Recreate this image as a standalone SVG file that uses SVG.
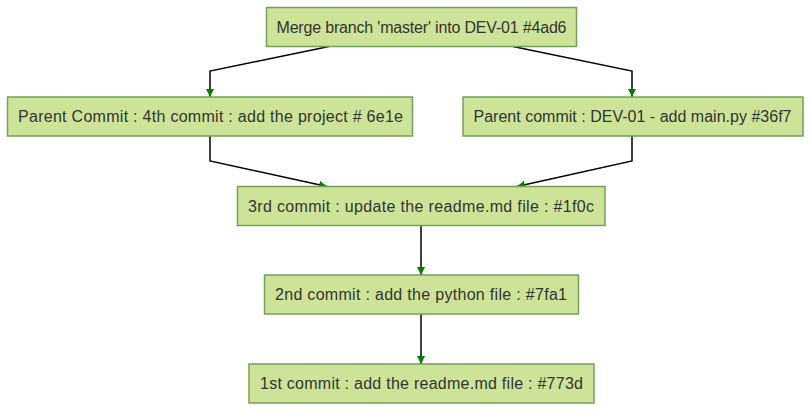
<svg xmlns="http://www.w3.org/2000/svg" width="809" height="411" viewBox="0 0 809 411">
<style>
.node rect{fill:#cde498;stroke:#74a05a;stroke-width:1.5}
.node text{font-family:"Liberation Sans",Arial,sans-serif;font-size:16px;fill:#333333;text-anchor:middle}
.edge{fill:none;stroke:#000000;stroke-width:1.5}
</style>
<defs>
<marker id="arrow" viewBox="0 0 10 10" refX="10" refY="5" markerUnits="userSpaceOnUse" markerWidth="8" markerHeight="8" orient="auto">
<path d="M0,0 L10,5 L0,10 z" fill="#008000"/>
</marker>
</defs>
<rect width="809" height="411" fill="#ffffff"/>
<g id="connectors">
<path class="edge" d="M329,46.5 L210,71 L210,97" marker-end="url(#arrow)"/>
<path class="edge" d="M513,46.5 L632,71 L632,97" marker-end="url(#arrow)"/>
<path class="edge" d="M210,136 L210,161 L327,186.5" marker-end="url(#arrow)"/>
<path class="edge" d="M632,136 L632,161 L517,186.5" marker-end="url(#arrow)"/>
<path class="edge" d="M421,225.5 L421,275" marker-end="url(#arrow)"/>
<path class="edge" d="M421,314 L421,364" marker-end="url(#arrow)"/>
</g>
<g id="n4ad6" class="node">
<rect x="266.5" y="7.5" width="310" height="39"/>
<text x="421.5" y="32.5" textLength="290">Merge branch 'master' into DEV-01 #4ad6</text>
</g>
<g id="n6e1e" class="node">
<rect x="7.5" y="97" width="405" height="39"/>
<text x="210.5" y="122" textLength="385">Parent Commit : 4th commit : add the project # 6e1e</text>
</g>
<g id="n36f7" class="node">
<rect x="463" y="97" width="340" height="39"/>
<text x="632.5" y="122" textLength="318">Parent commit : DEV-01 - add main.py #36f7</text>
</g>
<g id="n1f0c" class="node">
<rect x="237.5" y="186.5" width="367.5" height="39"/>
<text x="421" y="211.5" textLength="346">3rd commit : update the readme.md file : #1f0c</text>
</g>
<g id="n7fa1" class="node">
<rect x="264.5" y="275" width="314" height="39"/>
<text x="421" y="300" textLength="292">2nd commit : add the python file : #7fa1</text>
</g>
<g id="n773d" class="node">
<rect x="249" y="364" width="345" height="39"/>
<text x="421.5" y="389" textLength="323">1st commit : add the readme.md file : #773d</text>
</g>
</svg>
